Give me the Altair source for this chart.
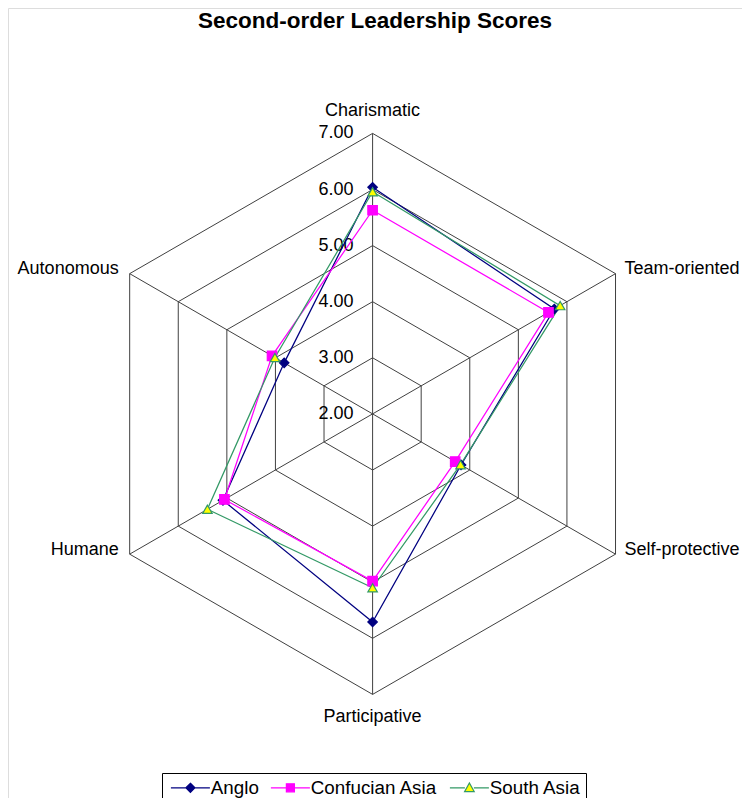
import altair as alt
import pandas as pd

# ---------------- data ----------------
axes = ["Charismatic", "Team-oriented", "Self-protective", "Participative", "Humane", "Autonomous"]
series = ["Anglo", "Confucian Asia", "South Asia"]
anglo = [6.04, 5.74, 3.82, 5.71, 5.08, 3.82]
confucian = [5.63, 5.62, 3.70, 4.98, 5.05, 4.07]
south_asia = [5.96, 5.86, 3.81, 5.10, 5.40, 4.01]
tick_values = [2, 3, 4, 5, 6, 7]
tick_labels = ["2.00", "3.00", "4.00", "5.00", "6.00", "7.00"]

# ---------------- styles ----------------
line_colors = ["#000080", "#FF00FF", "#339966"]
marker_fills = ["#000080", "#FF00FF", "#FFFF00"]
marker_shapes = ["diamond", "square", "triangle-up"]
legend_paths = [
    "M-3.9,0L-0.85,0M0.85,0L3.9,0M0,-0.9L0.9,0L0,0.9L-0.9,0Z",
    "M-3.9,0L-0.8,0M0.8,0L3.9,0M-0.8,-0.8L0.8,-0.8L0.8,0.8L-0.8,0.8Z",
    "M-3.9,0L-0.9,0M0.9,0L3.9,0M0,-0.95L0.95,0.75L-0.95,0.75Z",
]
FONT = "Liberation Sans"
GRID = "#404040"
FS = 18

W, H = 734, 800
CX, CY, U = 364.6, 405.9, 56.1
R0 = tick_values[0]
xdom = [-CX / U, (W - CX) / U]
ydom = [-(H - CY) / U, CY / U]
xs = alt.Scale(domain=xdom, nice=False, zero=False)
ys = alt.Scale(domain=ydom, nice=False, zero=False)
N = len(axes)


def polar(chart):
    return (
        chart.transform_calculate(theta=f"(90 - {360 / N} * datum.idx) * PI / 180")
        .transform_calculate(r=f"datum.value - {R0}")
        .transform_calculate(px="datum.r * cos(datum.theta)")
        .transform_calculate(py="datum.r * sin(datum.theta)")
    )


X = alt.X("px:Q", scale=xs, axis=None)
Y = alt.Y("py:Q", scale=ys, axis=None)

# series table
rows = []
for name, vals in zip(series, [anglo, confucian, south_asia]):
    for k in range(N + 1):
        i = k % N
        rows.append({"series": name, "axis": axes[i], "idx": i, "ord": k, "value": vals[i]})
df = pd.DataFrame(rows)

grid_df = pd.DataFrame(
    [{"value": lv, "idx": k % N, "ord": k} for lv in tick_values[1:] for k in range(N + 1)]
)
spoke_df = pd.DataFrame([{"idx": i, "value": tick_values[-1]} for i in range(N)])
tick_df = pd.DataFrame({"value": tick_values, "label": tick_labels, "idx": 0})
lab_df = pd.DataFrame({"axis": axes, "idx": list(range(N)), "value": tick_values[-1]})

grid = polar(alt.Chart(grid_df)).mark_line(color=GRID, strokeWidth=1).encode(
    x=X, y=Y, detail="value:N", order="ord:Q"
)

spokes = (
    polar(alt.Chart(spoke_df))
    .transform_calculate(c0="0")
    .mark_rule(color=GRID, strokeWidth=1)
    .encode(
        x=alt.X("c0:Q", scale=xs, axis=None),
        y=alt.Y("c0:Q", scale=ys, axis=None),
        x2="px:Q",
        y2="py:Q",
    )
)

ticks = polar(alt.Chart(tick_df)).mark_text(
    font=FONT, fontSize=FS, color="black", align="right", baseline="middle", dx=-19
).encode(x=X, y=Y, text="label:N")


def axis_label(idxs, **kw):
    return (
        polar(alt.Chart(lab_df))
        .transform_filter(alt.FieldOneOfPredicate(field="idx", oneOf=idxs))
        .mark_text(font=FONT, fontSize=FS, color="black", **kw)
        .encode(x=X, y=Y, text="axis:N")
    )


lab_top = axis_label([0], align="center", baseline="alphabetic", dy=-17.5)
lab_bottom = axis_label([3], align="center", baseline="alphabetic", dy=28)
lab_right = axis_label([1, 2], align="left", baseline="middle", dx=9, dy=-4.5)
lab_left = axis_label([4, 5], align="right", baseline="middle", dx=-11, dy=-4.5)

line_layers = []
point_layers = []
for name, shp, fc, sc in zip(series, marker_shapes, marker_fills, line_colors):
    base = polar(alt.Chart(df)).transform_filter(alt.FieldEqualPredicate(field="series", equal=name))
    line_layers.append(
        base.mark_line(color=sc, strokeWidth=1.25).encode(x=X, y=Y, order="ord:Q")
    )
    point_layers.append(
        base.transform_filter("datum.ord < %d" % N)
        .mark_point(shape=shp, filled=True, fill=fc, stroke=sc, size=90, strokeWidth=1.2, opacity=1)
        .encode(x=X, y=Y)
    )

legend = alt.Legend(
    orient="none",
    legendX=154,
    legendY=765,
    direction="horizontal",
    title=None,
    strokeColor="black",
    fillColor="white",
    padding=5,
    labelFont=FONT,
    labelFontSize=18.8,
    labelColor="black",
    labelOffset=11,
    symbolOffset=14,
    symbolSize=100,
    columnPadding=8,
    symbolStrokeWidth=1.25,
    symbolOpacity=1,
)

# invisible copy of the points whose scales supply the legend entries
legend_layer = (
    polar(alt.Chart(df))
    .transform_filter("datum.ord < %d" % N)
    .mark_point(filled=True, size=100, strokeWidth=1.25, opacity=0)
    .encode(
        x=X,
        y=Y,
        fill=alt.Fill("series:N", scale=alt.Scale(domain=series, range=marker_fills), legend=legend),
        stroke=alt.Stroke("series:N", scale=alt.Scale(domain=series, range=line_colors), legend=legend),
        shape=alt.Shape("series:N", scale=alt.Scale(domain=series, range=legend_paths), legend=legend),
    )
)

chart = (
    alt.layer(
        grid, spokes, ticks, lab_top, lab_bottom, lab_right, lab_left,
        *line_layers, *point_layers, legend_layer,
    )
    .properties(
        width=W,
        height=H,
        autosize=alt.AutoSizeParams(type="none"),
        padding=0,
        title=alt.TitleParams(
            text="Second-order Leadership Scores",
            font=FONT,
            fontSize=22.5,
            fontWeight="bold",
            color="black",
            anchor="middle",
            frame="group",
            offset=-24,
        ),
    )
    .configure_view(stroke="transparent", strokeWidth=0)
    .configure_axis(domain=False, ticks=False, labels=False, grid=False)
    .configure(background="white")
)

chart.save("out.html", embed_options={"renderer": "svg", "actions": False})
